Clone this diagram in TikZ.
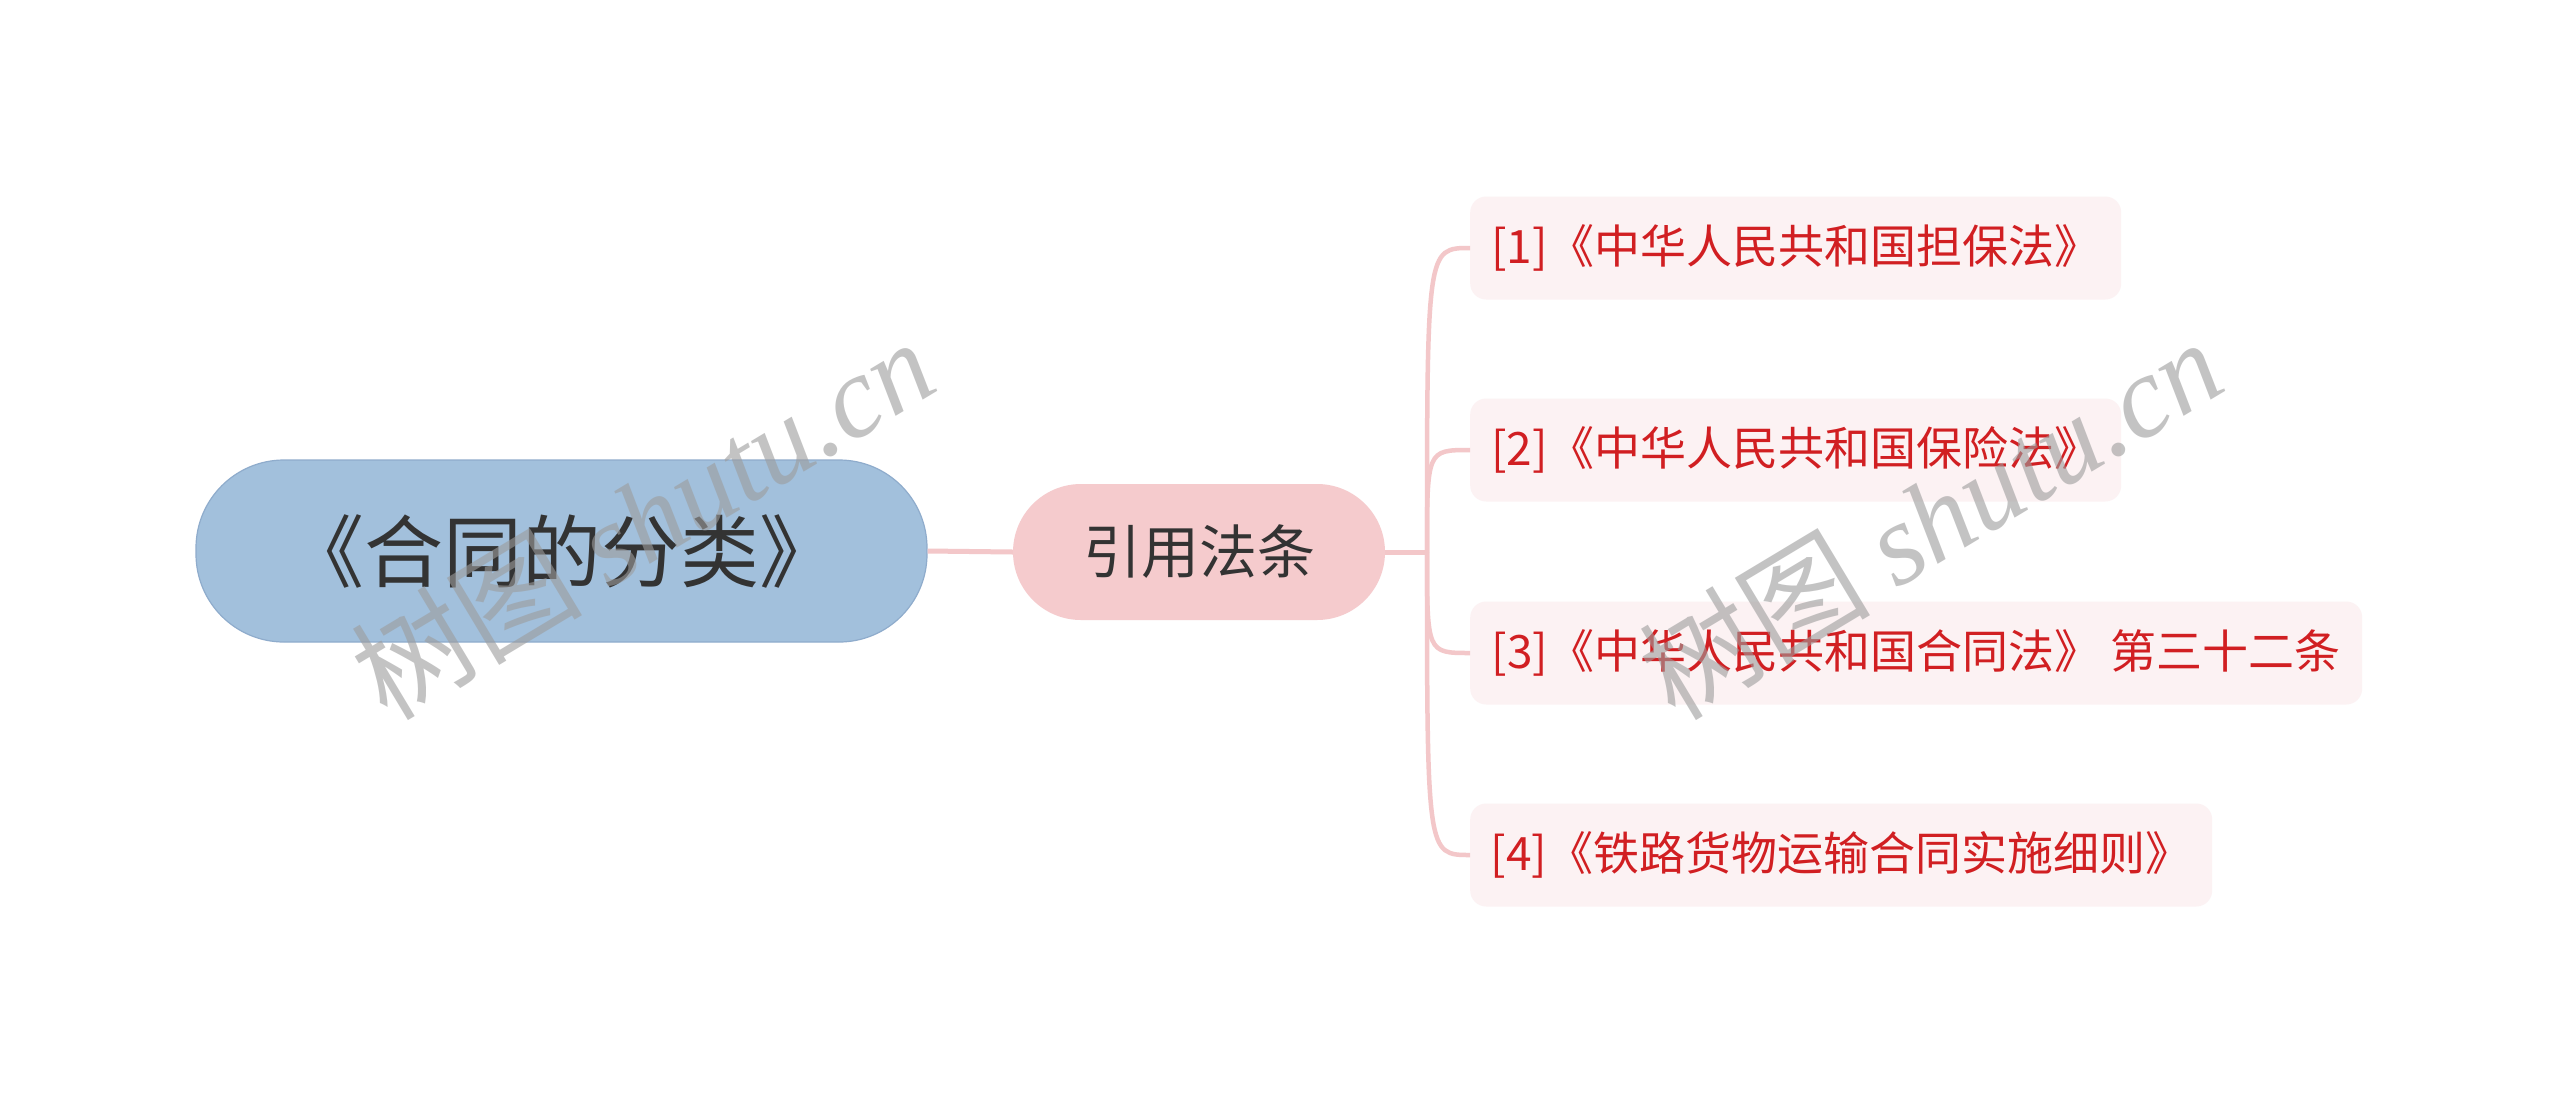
\documentclass[tikz,border=0pt]{standalone}
\usepackage{fontspec}
\setmainfont{Noto Sans CJK SC}
\newfontfamily\cjkfont{Noto Sans CJK SC}
\newfontfamily\wmlatin{Liberation Serif}
\definecolor{rootfill}{HTML}{A2C0DC}
\definecolor{rootdraw}{HTML}{8FACCC}
\definecolor{linkpink}{HTML}{F3C7C9}
\definecolor{subfill}{HTML}{F5CBCD}
\definecolor{leaffill}{HTML}{FCF2F3}
\definecolor{leaftext}{HTML}{D11F22}
\definecolor{roottext}{HTML}{333333}
\definecolor{wmgray}{HTML}{9C9C9C}
\begin{document}
\begin{tikzpicture}[x=1pt,y=-1pt,
  rootbox/.style={draw=rootdraw, line width=1.2pt, fill=rootfill, rounded corners=88pt,
    minimum width=731pt, minimum height=182pt, inner sep=0pt,
    text=roottext, font=\cjkfont\fontsize{79pt}{90pt}\selectfont},
  subbox/.style={fill=subfill, rounded corners=68pt,
    minimum width=372pt, minimum height=136pt, inner sep=0pt,
    text=roottext, font=\cjkfont\fontsize{58pt}{68pt}\selectfont},
  leafbox/.style={fill=leaffill, rounded corners=16pt, anchor=west,
    minimum height=103pt, inner sep=0pt,
    text=leaftext, font=\cjkfont\fontsize{46pt}{54pt}\selectfont},
  link/.style={draw=linkpink, line width=5pt},
  branch/.style={draw=linkpink, line width=4.5pt},
  watermark/.style={text=wmgray, text opacity=0.6, rotate=31,
    font=\fontsize{116pt}{130pt}\selectfont, inner sep=0pt}
]
\useasboundingbox (0,0) rectangle (2560,1104);
\fill[white] (0,0) rectangle (2560,1104);

\node[rootbox] (root) at (561.5,551) {《合同的分类》};
\node[subbox] (sub) at (1199,552) {引用法条};
\coordinate (j) at (1427,552);

\node[leafbox, minimum width=651pt] (l1) at (1470,248) {[1]《中华人民共和国担保法》};
\node[leafbox, minimum width=651pt] (l2) at (1470,450) {[2]《中华人民共和国保险法》};
\node[leafbox, minimum width=892pt] (l3) at (1470,653) {[3]《中华人民共和国合同法》 第三十二条};
\node[leafbox, minimum width=742pt] (l4) at (1470,855) {[4]《铁路货物运输合同实施细则》};

\draw[link] (root.east) -- (sub.west);
\draw[link] (sub.east) -- (j);
\foreach \n in {l1,l2,l3,l4}{
  \draw[branch] (j) .. controls (j |- \n.west) and (j |- \n.west) .. (\n.west);
}

\node[watermark] (wm1) at (642,518) {树图 {\wmlatin\itshape shutu.cn}};
\node[watermark] (wm2) at (1930,518) {树图 {\wmlatin\itshape shutu.cn}};
\end{tikzpicture}
\end{document}
